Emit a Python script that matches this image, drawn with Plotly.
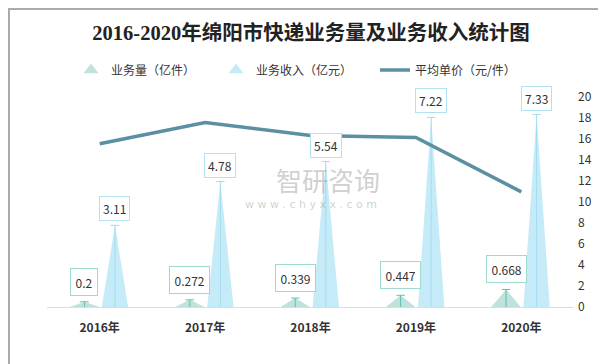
import plotly.graph_objects as go

years = ['2016年', '2017年', '2018年', '2019年', '2020年']
volume = [0.2, 0.272, 0.339, 0.447, 0.668]        # 业务量（亿件）
revenue = [3.11, 4.78, 5.54, 7.22, 7.33]          # 业务收入（亿元）
price = [15.55, 17.57, 16.34, 16.15, 10.97]       # 平均单价（元/件）
right_ticks = [0, 2, 4, 6, 8, 10, 12, 14, 16, 18, 20]

VOL_FILL = '#bfe3dc'
REV_FILL = '#c6ebf8'
LINE_COL = '#5b8fa2'
VOL_STEM = '#5fbfb1'
REV_STEM = '#a3dcef'

idx = list(range(len(years)))
off = 0.145
vw = 0.28
rw = 0.25


def tri(values, shift, width):
    xs, ys = [], []
    for i, v in zip(idx, values):
        c = i + shift
        xs += [c - width / 2, c, c + width / 2, c - width / 2, None]
        ys += [0, v, 0, 0, None]
    return xs, ys


def stems(values, shift):
    xs, ys = [], []
    for i, v in zip(idx, values):
        xs += [i + shift, i + shift, None]
        ys += [0, v, None]
    return xs, ys


fig = go.Figure()

vx, vy = tri(volume, -off, vw)
fig.add_trace(go.Scatter(x=vx, y=vy, fill='toself', fillcolor=VOL_FILL, mode='none',
                         showlegend=False, hoverinfo='skip'))
rx, ry = tri(revenue, off, rw)
fig.add_trace(go.Scatter(x=rx, y=ry, fill='toself', fillcolor=REV_FILL, mode='none',
                         showlegend=False, hoverinfo='skip'))

sx, sy = stems(volume, -off)
fig.add_trace(go.Scatter(x=sx, y=sy, mode='lines', line=dict(color=VOL_STEM, width=1),
                         showlegend=False, hoverinfo='skip'))
fig.add_trace(go.Scatter(x=[i - off for i in idx], y=volume, mode='markers',
                         marker=dict(symbol='line-ew', size=6, line=dict(color=VOL_STEM, width=1)),
                         showlegend=False, hoverinfo='skip'))
sx, sy = stems(revenue, off)
fig.add_trace(go.Scatter(x=sx, y=sy, mode='lines', line=dict(color=REV_STEM, width=1),
                         showlegend=False, hoverinfo='skip'))
fig.add_trace(go.Scatter(x=[i + off for i in idx], y=revenue, mode='markers',
                         marker=dict(symbol='line-ew', size=6, line=dict(color=REV_STEM, width=1)),
                         showlegend=False, hoverinfo='skip'))

fig.add_trace(go.Scatter(x=idx, y=price, mode='lines', yaxis='y2',
                         line=dict(color=LINE_COL, width=3.5), name='平均单价（元/件）',
                         legend='legend3'))

# legend-only markers
fig.add_trace(go.Scatter(x=[None], y=[None], mode='markers', name='业务量（亿件）',
                         marker=dict(symbol='triangle-up', size=13, color=VOL_FILL), legend='legend'))
fig.add_trace(go.Scatter(x=[None], y=[None], mode='markers', name='业务收入（亿元）',
                         marker=dict(symbol='triangle-up', size=13, color=REV_FILL), legend='legend2'))

annotations = []
for i, v in zip(idx, revenue):
    annotations.append(dict(x=i + off, y=v, xref='x', yref='y', text=str(v), showarrow=False,
                            yanchor='bottom', yshift=4, font=dict(size=12, color='#333'),
                            bgcolor='white', bordercolor='#b2e3f3', borderwidth=1, borderpad=3))
for i, v in zip(idx, volume):
    annotations.append(dict(x=i - off, y=v, xref='x', yref='y', text=str(v), showarrow=False,
                            yanchor='bottom', yshift=6, font=dict(size=12, color='#333'),
                            bgcolor='white', bordercolor='#9fd9cf', borderwidth=1, borderpad=4.5))

L, R, T, B = 39, 40, 89, 65
W, H = 606, 364
pw, ph = W - L - R, H - T - B


def px(xp):
    return (xp - L) / pw


def py(yp):
    return (H - B - yp) / ph


# watermark
annotations.append(dict(x=px(320), y=py(191), xref='paper', yref='paper', yanchor='bottom',
                        text='智研咨询', showarrow=False, borderpad=0,
                        font=dict(size=26, color='rgba(150,150,150,0.45)', family='Noto Sans CJK SC')))
annotations.append(dict(x=px(303), y=py(189), xref='paper', yref='paper', yanchor='top',
                        text='w w w . c h y x x . c o m', showarrow=False, borderpad=0,
                        font=dict(size=11, color='rgba(150,150,150,0.45)', family='DejaVu Sans')))

legend_common = dict(orientation='h', yanchor='middle', y=py(62), xanchor='left',
                     font=dict(size=12, color='#333', family='Noto Sans CJK SC'),
                     bgcolor='rgba(0,0,0,0)', itemwidth=30)

fig.update_layout(
    width=W, height=H,
    margin=dict(l=L, r=R, t=T, b=B),
    paper_bgcolor='white', plot_bgcolor='white',
    font=dict(family='Noto Sans CJK SC', color='#333'),
    title=dict(text='<b>2016-2020年绵阳市快递业务量及业务收入统计图</b>', x=0.5, xanchor='center',
               y=1 - 25 / H, yanchor='middle',
               font=dict(size=20.5, color='#222', family='Liberation Serif, Noto Sans CJK SC')),
    xaxis=dict(range=[-0.5, 4.5], tickmode='array', tickvals=idx, ticktext=years,
               showgrid=False, zeroline=False, showline=True, linecolor='#dddddd', linewidth=1,
               ticks='', ticklabelstandoff=10,
               tickfont=dict(size=12, color='#333', family='Noto Sans CJK SC', weight='bold')),
    yaxis=dict(range=[0, 8], visible=False, showgrid=False, zeroline=False),
    yaxis2=dict(range=[0, 20], overlaying='y', side='right', tickmode='array', tickvals=right_ticks,
                showgrid=False, zeroline=False, showline=False, ticks='', ticklabelstandoff=3,
                tickfont=dict(size=12, color='#333', family='Noto Sans CJK SC')),
    legend=dict(legend_common, x=px(63)),
    legend2=dict(legend_common, x=px(208)),
    legend3=dict(legend_common, x=px(367)),
    annotations=annotations,
    shapes=[dict(type='rect', xref='paper', yref='paper', x0=px(1), x1=px(605), y0=py(363), y1=py(1),
                 line=dict(color='#aaaaaa', width=2), layer='above')],
    showlegend=True,
)

fig.write_html('out.html')
